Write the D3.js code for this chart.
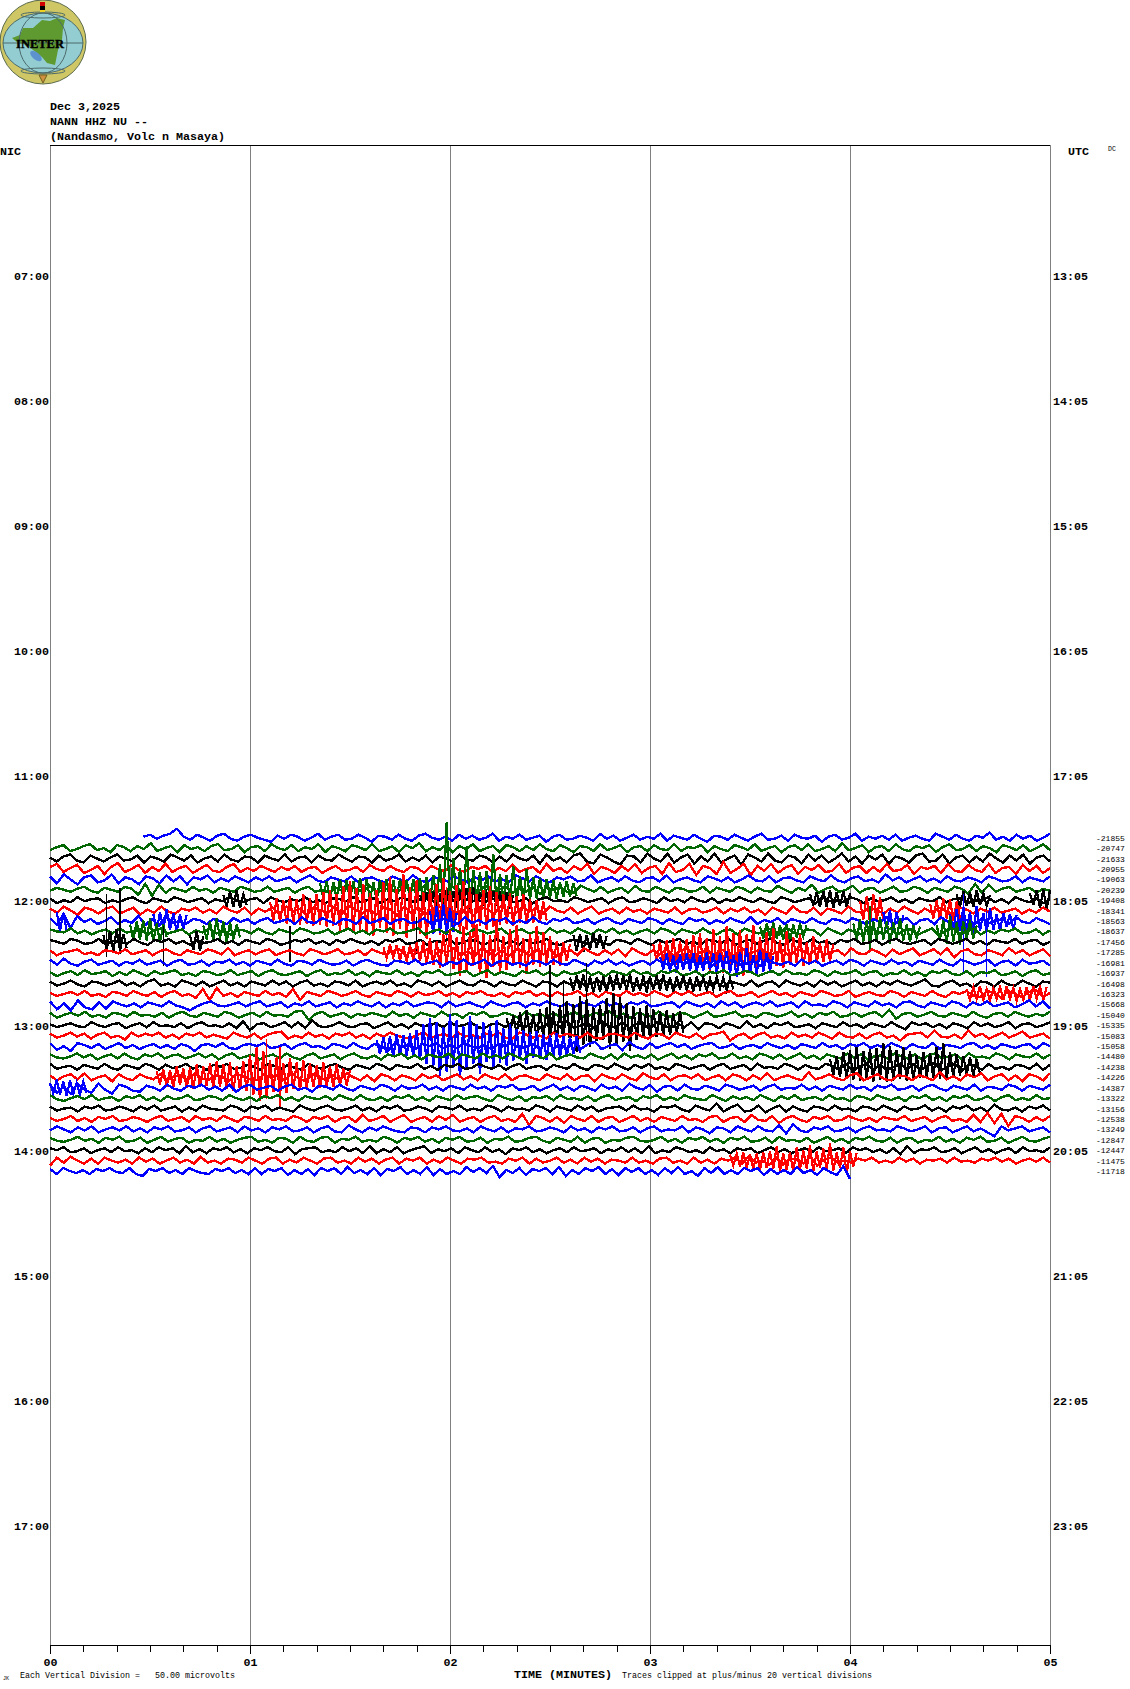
<!DOCTYPE html>
<html>
<head>
<meta charset="utf-8">
<title>NANN HHZ NU helicorder</title>
<script src="https://cdn.jsdelivr.net/npm/d3@7"></script>
<style>
  html, body { margin: 0; padding: 0; background: #fff; }
  svg { display: block; }
  text { font-family: "Liberation Mono", "DejaVu Sans Mono", monospace; white-space: pre; }
</style>
</head>
<body>
<div class="chart"></div>
<script>
// labels
var headerLines = ["Dec 3,2025", "NANN HHZ NU --", "(Nandasmo, Volc n Masaya)"];
var nicLabels = ["07:00", "08:00", "09:00", "10:00", "11:00", "12:00", "13:00", "14:00", "15:00", "16:00", "17:00"];
var utcLabels = ["13:05", "14:05", "15:05", "16:05", "17:05", "18:05", "19:05", "20:05", "21:05", "22:05", "23:05"];
var minuteLabels = ["00", "01", "02", "03", "04", "05"];

// right hand column, one value for each drawn trace
var dcOffsets = [-21855, -20747, -21633, -20955, -19063, -20239, -19408, -18341, -18563, -18637, -17456,
  -17285, -16981, -16937, -16498, -16323, -15668, -15040, -15335, -15083, -15058, -14480, -14238,
  -14226, -14387, -13322, -13156, -12538, -13249, -12847, -12447, -11475, -11718];

var firstRow = 66;      // the first 5 minute line that has data
var traceStart = [28];  // second where a trace begins, only the first one is late
var lastTraceEnd = 240; // the last trace stops at minute 4

// trace samples, one list per 5 minute line (in px-ish amplitude units)
var trace66 = [1,3,-1,2,4,9,1,-2,3,0,-3,2,4,-1,-3,1,3,0,-2,-4,2,-1,3,1,-3,0,4,-2,1,3,-2,-1,3,0,-4,2,1,-2,3,-1,-3,2,4,0,-2,1,-3,3,-1,2,-2,0,4,-3,1,-1,3,-2,0,2,-4,1,3,-2,-1,2,0,-3,4,-1,2,-3,0,3,-2,1,-1,4,-3,2,0,-2,3,-1,-4,2,1,-2,3,0,-3,1,4,-2,-1,2,-3,3,0,-1,2,-4,1,3,-2,0,4,-3,1,-1,2,-2,3,-3,0,2,-1,-3,4,1,-2,3,-1,-3,2,0,5,-2,1,-3,3,-1,2,-3,0,4];
var trace67 = [-2,1,3,-3,-1,2,4,-2,0,-4,3,1,-3,2,-1,5,-3,0,2,-4,3,-1,1,-3,2,4,-2,-1,3,-4,1,2,-3,4,0,-2,3,-3,1,-1,4,-4,2,0,-3,3,1,-2,4,-3,-1,2,-4,3,0,5,-3,1,-2,3,-4,2,-1,4,-3,0,2,-4,3,1,-3,2,-2,4,-1,-3,3,0,-4,2,1,-3,4,-2,0,3,-4,1,2,-3,3,-1,-2,4,-3,1,0,3,-4,2,-1,-3,3,1,-2,4,-3,0,2,-4,1,3,-2,4,-3,-1,2,-3,5,-2,0,3,-4,1,2,-3,4,-1,-3,2,0,3,-4,1,4,-2,-1,3,-3,2,0,-4,3,1,-2,3,-3,0,4,-2];
var trace68 = [1,-3,2,4,-2,-4,3,0,-3,1,4,-2,-1,3,-4,2,0,-3,4,1,-2,3,-4,0,2,-3,4,-1,-3,2,1,-4,3,0,-2,4,-3,1,2,-4,3,-1,-2,4,0,-3,2,1,-4,3,-2,0,4,-3,1,-2,3,-4,2,0,-3,4,-1,-2,3,1,-4,2,-3,4,0,-2,3,-5,4,-2,1,-4,3,5,-3,-5,4,1,-3,-6,3,2,-4,5,0,-3,5,-4,1,4,-5,2,-3,5,-4,0,3,-6,4,1,-3,5,-2,-4,3,1,-5,4,-2,3,-4,0,5,-3,2,-5,3,-1,4,-5,2,0,-4,3,5,-3,-2,4,-5,1,3,-4,2,-3,5,0,-4,3,-2,4,-5,1,3,-3];
var trace69 = [2,5,-3,1,4,-4,-1,3,-5,2,6,-3,0,4,-4,2,-2,5,-3,1,3,-4,0,4,-2,-3,2,5,-3,1,-2,3,0,-3,2,-1,3,-3,1,2,-4,0,3,-2,-1,2,-3,4,0,-2,3,-1,-3,2,1,-4,3,0,-2,4,-1,-3,2,0,3,-3,1,-2,4,-3,0,2,-4,5,-2,1,-4,3,-1,5,-5,2,0,-4,3,-2,5,-4,1,3,-5,6,-3,-1,5,-6,3,1,-5,7,-4,0,5,-6,3,-2,5,-4,1,4,-5,2,-1,4,-3,-2,5,-4,1,3,-4,2,-3,5,-2,-1,4,-5,2,0,3,-4,5,-2,-3,4,-1,-3,5,-4,1,2,-5,4,-2,3,-4,1];
var trace70 = [3,-4,5,0,-5,2,4,-3,-1,5,-4,2,0,-5,3,1,-4,4,-2,3,-5,2,0,4,-3,1,-2,3,0,-3,2,-1,3,-2,0,2,-3,1,4,-1,-3,2,0,-2,3,-3,1,2,-1,-3,3,0,-2,4,-1,-3,2,1,-2,3,0,-3,2,-1,3,-2,0,-3,4,1,-2,3,-1,-3,2,0,3,-2,-1,4,-3,0,2,-2,3,-1,-3,1,2,-2,4,-3,0,2,-1,-3,3,1,-2,2,-3,0,4,-1,-2,3,-3,1,2,-1,-3,3,0,-2,4,-1,-3,1,3,-2,0,-3,5,-1,2,-3,0,3,-2,1,-3,3,-1,-2,2,0,-3,3,1,-2,-1,3,-3,2,0,-2,3];
var trace71 = [-1,2,0,-2,1,3,-1,-3,2,0,-2,3,1,-5,6,-6,5,-3,2,0,-2,3,-1,1,-3,2,0,-2,3,1,-2,-1,3,-2,0,2,-3,1,3,-2,0,-3,2,-1,3,1,-2,4,-3,0,2,-3,3,1,-2,4,-3,0,-2,3,1,-3,2,-1,4,-2,0,3,-3,1,-2,3,-4,2,0,3,-2,-3,4,1,-2,3,-3,0,2,-3,4,-1,-2,3,0,-3,2,1,-2,-1,3,-3,2,0,-2,3,1,-3,2,-1,-2,4,0,-3,2,-1,5,-3,1,3,-2,0,4,-3,1,2,-3,0,3,-2,-1,3,1,-3,2,0,-2,3,1,-4,6,-3,5,-2,1,3,-2,0,2,-3,1,-1];
var trace72 = [2,-3,0,-2,3,-1,1,2,-3,0,-2,1,3,-1,-3,2,0,-2,3,1,-2,0,2,-3,1,-1,3,0,-2,1,2,-3,3,0,-2,1,-1,3,-2,0,-3,2,1,-1,3,-2,0,2,-3,1,-1,3,0,-2,2,1,-3,2,0,-1,3,-2,1,-3,2,0,3,-2,-1,2,-3,1,3,-1,0,-2,3,1,-2,0,2,-3,1,3,-2,-1,2,0,-3,3,-1,1,-2,3,0,-2,2,-3,1,-1,3,0,-2,2,-1,-3,3,1,-2,0,2,-3,3,-1,0,-2,3,1,-3,2,-1,0,3,-2,1,-3,2,0,-1,3,-2,1,2,-3,0,-1,3,-2,1,-3,3,0,-2,2,-3,1];
var trace73 = [2,-2,4,0,-4,3,1,-3,2,4,-3,0,3,-4,1,-2,4,-1,-3,2,0,3,-2,1,-3,4,0,-2,3,-4,2,-1,3,-3,4,-1,2,-5,3,0,-2,4,-4,5,1,-3,2,-4,3,1,-5,4,-2,3,-4,1,5,-3,0,-4,3,-5,4,1,-3,5,-2,-3,4,-1,2,-3,4,0,-2,3,-3,1,4,-3,0,2,-3,3,-1,1,-3,2,0,-2,3,-3,1,2,-2,0,3,-3,2,-1,3,-2,1,-4,3,0,-3,4,-1,-2,3,-4,2,0,-3,4,-1,-2,3,1,-3,2,-2,4,0,-3,2,-2,3,0,-4,3,1,-3,2,-1,3,-2,0,2,-3,1,-2,3,-1];
var trace74 = [3,-4,7,-7,5,-1,2,-3,0,4,-3,1,-2,5,-4,2,-5,5,-2,0,-3,2,1,-3,2,0,-3,3,-1,2,-3,1,3,-2,0,2,-3,4,-1,-2,3,0,-3,2,1,-3,4,-2,0,3,-3,1,2,-2,-1,3,-3,1,2,0,-3,4,-2,1,-3,2,0,3,-3,1,-2,4,-1,-3,2,0,3,-2,-1,2,-3,1,3,-1,-3,2,0,-2,3,1,-3,2,-1,-3,3,0,2,-3,1,-2,3,0,-2,4,-3,1,-1,3,-3,2,0,-2,3,-1,-3,2,1,-2,3,0,-3,2,-1,4,-3,0,3,-4,1,2,-3,4,-1,-3,2,1,-3,3,-2,0,2,-3,4,-1,-2,3,0,-3];
var trace75 = [2,0,-1,3,-2,1,-3,0,2,-2,3,-1,0,2,-3,1,3,-2,0,2,-3,1,-1,3,-2,0,-3,2,1,-2,3,-1,-3,2,0,-2,3,1,-2,-1,2,-3,0,3,-2,1,-3,2,0,3,-2,-1,1,3,-3,0,2,-2,3,-1,-3,2,1,-2,0,3,-3,1,2,-2,0,-3,3,-1,1,-2,3,0,-3,2,-1,3,-2,1,-3,0,2,-2,3,1,-3,2,0,-2,3,-1,-3,1,2,-3,3,0,-2,1,3,-3,4,-1,-3,2,1,-4,3,0,-3,2,-1,-3,4,0,-2,3,-3,1,2,-3,0,3,-4,1,3,-2,0,3,-3,1,-2,2,0,3,-2,-1,2,-3,1];
var trace76 = [2,0,-2,3,1,-2,-1,3,-3,1,0,-2,3,-1,-3,2,0,3,-2,1,-3,2,-1,0,3,-2,1,-3,2,0,-2,3,1,-3,-1,2,0,3,-2,1,-3,2,-1,3,0,-2,1,-3,2,0,3,-2,-1,2,-3,1,0,3,-2,-1,2,1,-3,0,3,-2,1,-3,2,-1,0,3,-2,-3,1,2,0,-2,3,-1,-3,2,1,-2,3,0,-3,2,-1,1,3,-2,0,-3,2,1,-1,3,-3,0,2,-2,1,3,-1,-3,2,0,-2,3,-1,1,-3,2,0,3,-2,-1,2,-3,1,3,-1,-2,0,2,-3,3,1,-2,0,3,-2,1,-3,2,0,-1,3,-2,1,2,-3,0];
var trace77 = [2,-3,0,1,3,-2,0,-3,2,1,-1,3,-2,0,2,-3,1,3,-1,-3,2,0,-2,3,1,-2,4,-3,0,2,-2,1,3,-3,0,2,-1,-3,3,1,-2,0,3,-2,-1,2,-3,3,0,-2,1,3,-3,2,-1,3,-4,2,0,4,-3,1,-4,4,0,-3,2,-4,3,1,-3,2,-2,3,-4,1,2,-3,4,0,-3,2,-2,3,-4,4,0,-3,2,-2,3,-3,1,4,-3,0,2,-4,3,-1,-3,4,-2,1,3,-3,0,2,-4,3,1,-2,4,-3,0,2,-3,4,-1,-2,3,0,-4,3,-2,1,4,-3,0,3,-2,4,-5,1,3,-2,-3,2,0,-3,4,-1,2,-3,0,3,-4];
var trace78 = [3,-2,4,-1,-3,1,3,-2,0,2,-3,1,-1,3,-2,0,2,-3,1,3,-2,-1,2,-3,1,0,3,-2,1,-3,2,0,-2,3,-1,-3,2,1,-2,3,0,-2,-1,2,-3,1,3,0,-2,-3,2,1,-1,3,-2,0,2,-3,1,-1,3,-2,0,3,-3,1,2,-2,0,-3,2,1,-2,3,-1,-2,3,0,-3,2,-1,3,-2,1,-3,0,2,-2,3,0,-3,2,-1,3,-2,1,-3,2,0,3,-2,-1,2,-3,3,0,-2,1,-3,3,-1,2,-3,0,2,-2,3,1,-3,2,0,-2,3,-1,1,-3,2,0,-2,3,-1,-3,3,1,-2,0,3,-3,1,2,-3,3,-1,0,2,-3];
var trace79 = [1,-3,0,2,-2,3,-1,0,2,-3,1,-2,3,0,-3,2,-1,1,3,-2,0,-3,2,1,-2,-1,3,-2,0,2,-3,1,3,-1,-2,0,2,-3,1,3,-2,0,-1,3,-2,1,-3,2,0,-1,3,-2,1,-3,2,0,3,-2,-1,1,2,-3,0,3,-2,1,-1,-3,2,0,3,-2,1,-3,2,-1,0,3,-2,1,-3,2,0,-2,3,-1,1,-3,2,0,3,-2,-1,2,-3,1,0,3,-2,-1,2,1,-3,0,2,-2,3,-1,0,-2,3,1,-3,2,-1,0,3,-2,1,2,-3,0,-1,3,-2,1,-3,2,0,3,-1,-2,2,-3,1,0,3,-2,-1,2,-3,1,3,-2,0];
var trace80 = [2,-2,0,3,-1,-3,2,1,-2,0,3,-2,1,-3,2,4,-2,0,-3,3,1,-2,2,-3,0,3,-2,1,-3,2,0,-2,3,-1,2,-3,1,3,-2,0,-3,2,1,-2,3,-3,0,2,-1,3,-2,0,-3,3,1,-2,2,-3,0,3,-1,-2,3,1,-3,2,-1,-2,3,0,-3,2,1,-3,2,-1,3,-2,0,3,-3,2,-1,3,0,-3,2,-2,3,1,-3,2,0,-2,3,-1,1,-3,2,0,-2,3,-3,1,2,-3,3,0,-2,1,-3,3,-1,2,-3,0,3,-2,1,-3,2,-1,3,0,-2,1,4,-2,-3,1,3,-2,0,-4,2,1,-3,3,-1,-2,3,0,-3,2,1];
var trace81 = [1,-2,0,2,-1,3,-2,0,-3,2,1,-2,3,0,-2,2,-3,1,3,-2,0,-4,5,-6,6,-2,1,-3,2,0,-2,3,-1,1,-3,5,-6,2,0,-2,3,1,-2,0,3,-1,-3,2,0,-2,3,1,-3,2,-1,0,3,-2,1,-3,2,0,3,-1,-2,1,-3,2,0,3,-2,1,-3,2,-1,0,3,-2,1,-3,2,0,-2,3,-1,1,-2,3,0,-3,2,-1,3,-2,0,2,-3,1,3,-2,-1,2,-3,0,3,-1,1,-3,2,0,-2,3,1,-2,-1,3,-3,0,2,-1,-2,3,1,-3,2,0,-2,3,-1,-3,2,0,3,-2,-3,3,1,-4,3,0,-3,2,4,-3,1];
var trace82 = [3,-5,1,-6,4,-3,-5,2,-4,3,0,-2,1,-3,2,0,-2,3,-1,-3,-6,-2,1,3,-1,-2,0,2,-2,1,3,-2,0,2,-3,1,-1,3,-2,0,2,-3,1,-1,3,0,-2,2,-3,1,-1,3,-2,0,2,1,-3,3,-2,0,2,-1,-3,3,0,-2,1,2,-3,1,-1,3,0,-2,1,-3,2,0,-2,3,-1,1,-3,2,0,3,-2,-1,1,2,-3,3,0,-2,1,-3,3,-1,2,-3,0,2,-1,3,-2,0,2,-3,3,-1,0,-2,3,1,-3,2,0,-2,3,-1,1,-3,2,3,-1,-3,2,0,-2,3,1,-3,2,-1,3,-2,0,2,-3,0,4,-2,3,-4];
var trace83 = [2,-3,0,2,-1,3,-2,0,-3,2,1,-2,3,-1,0,-2,2,-3,1,3,-1,-2,2,0,-2,3,1,-3,0,2,-2,3,-1,0,-2,3,4,-5,1,3,-2,0,2,-3,1,-1,2,0,-2,3,-1,1,-3,2,0,-2,3,-1,1,-3,2,0,3,-2,-1,2,0,-3,3,-1,1,-2,2,-3,0,3,-2,-1,2,0,3,-2,1,-3,2,0,-2,3,-1,-2,2,1,-3,0,3,-2,-1,1,3,-2,0,-3,2,1,-2,0,3,-2,1,-3,2,0,3,-2,-1,2,-2,1,3,-2,5,-4,1,2,-2,0,3,-1,-2,2,0,-2,3,-1,-3,1,2,-2,3,0,-2,1,-1,3];
var trace84 = [1,-2,0,2,-1,-2,3,0,-2,1,2,-3,0,2,-2,3,-1,0,-2,2,-3,1,3,-1,0,-2,2,-3,4,-5,1,2,-2,0,3,-2,3,-3,5,-1,-2,0,3,-1,-2,1,2,-3,0,3,-2,1,-3,2,-1,0,2,-2,3,-1,0,3,-2,-3,1,2,-2,3,0,-2,3,-3,1,2,-2,4,-3,0,2,-3,4,-1,-2,3,-3,1,2,-4,3,0,-3,2,-2,3,-4,2,1,-3,2,0,-3,4,-2,1,-3,2,0,3,-2,-1,1,-3,2,0,-2,3,-1,1,-3,2,0,-2,3,-1,-4,3,0,2,-2,1,-3,2,0,-3,3,-1,2,-2,0,3,-3,1,2,-2,0,3];
var trace85 = [2,-2,0,3,-1,2,-3,1,3,-2,0,-4,3,-1,2,0,3,-2,1,-3,2,0,3,-2,1,-1,-3,3,0,-2,2,-3,1,3,4,-3,0,-2,3,-1,1,-3,2,0,3,-2,1,-3,2,-1,3,0,-2,-3,1,3,-2,0,2,-3,3,-1,1,-3,2,0,3,-2,-3,3,1,-2,0,-3,3,-1,2,0,-2,3,-2,-3,1,2,0,-2,3,-1,-3,2,1,-3,3,0,-2,2,-3,1,2,4,-5,0,2,-3,1,3,-2,0,-3,3,-1,1,-2,3,0,-3,3,-1,-2,2,-3,1,3,-2,0,-5,1,2,3,-2,5,-1,-2,1,-3,5,-1,2,-3,0,3,-2,1,4,-2,0,2,-3];
var trace86 = [3,-4,0,-5,3,1,-2,2,-3,0,3,-2,1,-3,0,2,-2,1,-3,2,0,-5,1,2,-1,3,-2,-3,1,2,0,3,-2,-1,2,-3,1,3,-1,0,-3,2,1,-2,3,-1,-3,2,0,-5,3,-1,1,-3,2,0,3,-2,1,-2,3,0,-2,1,-3,2,0,3,-2,-1,2,-3,3,-2,1,-3,4,-3,2,4,-3,0,2,-4,4,-1,-3,3,-2,1,3,-1,2,-3,0,2,3,-2,-1,2,-3,0,1,-2,3,0,-2,1,-3,2,0,-2,3,-1,1,-3,2,0,3,-2,1,-2,3,0,-3,2,-1,-2,3,-3,1,0,-2,2,3,-2,1,-3,2,0,-2,1,2,-3,3,0];
var trace87 = [2,-1,-2,0,3,-1,2,-3,0,2,-2,3,-1,-3,2,0,3,-2,1,2,-2,0,3,-1,2,-3,1,3,-2,0,2,-3,0,2,-2,3,-1,-3,1,3,-2,0,2,-3,1,3,-1,-2,1,-3,2,0,3,-2,1,-3,2,0,-1,3,-3,2,0,-2,3,-1,1,-2,3,0,-3,2,1,-2,3,-3,0,2,-1,-2,3,0,-2,2,-3,3,-1,1,-2,2,-3,0,3,-2,1,-3,2,0,3,-2,-1,3,-2,0,-3,3,1,-2,2,-3,0,3,-2,1,-3,2,0,-2,3,-1,2,-3,0,1,-2,3,0,-2,2,-3,1,3,-2,0,2,-3,3,-1,0,-2,3,1,-3,2,0,-1,3,-2,2];
var trace88 = [3,-2,0,1,-3,2,0,-2,3,-1,-3,2,0,-2,3,1,-3,2,-1,0,3,-2,1,-3,2,0,3,-2,-1,2,0,-3,3,1,-2,2,-1,-3,3,0,-2,1,3,-1,-3,2,0,-2,3,1,-3,2,0,-1,3,-2,1,-3,2,0,3,-2,-1,3,0,-2,2,-3,1,3,-2,0,1,-3,2,0,-2,3,-1,-3,2,1,-2,3,0,-3,2,-1,3,-2,0,-3,3,1,-2,0,2,-3,1,3,-2,0,2,-3,3,-1,0,-2,3,1,-3,2,-1,-2,3,1,-3,3,-4,0,3,-3,2,-3,0,3,-2,3,-3,1,4,-3,0,3,-4,2,1,-3,3,-2,0,-3,2,1,-2,3,-3,2];
var trace89 = [2,-3,1,3,-2,4,-3,0,2,-4,3,-1,-3,3,0,-2,3,-3,1,2,-3,4,-1,-3,2,0,-3,3,1,-2,-3,3,0,2,-3,4,-1,-4,3,1,-3,2,-3,4,0,-3,2,-4,3,1,-3,2,0,-3,3,-1,2,-3,0,3,-2,1,-3,3,0,-2,3,-3,1,2,-1,-3,3,0,-2,3,-3,1,2,-4,3,0,-2,3,-1,-3,4,0,-2,3,-3,1,2,-1,3,-3,0,2,-3,3,1,-3,2,-2,4,-3,0,2,-1,-3,5,-2,0,3,-1,-3,2,4,-3,0,3,-2,-3,2,1,-3,2,0,-3,5,-2,1,-3,3,0,4,-3,1,3,-3,2,-4,3,1,-3,4];
var trace90 = [3,-5,1,-6,4,-2,-5,4,-2,-6,3,1,-3,-4,2,0,-3,3,-1,-3,2,0,3,-2,1,-3,3,-4,1,3,-2,0,2,-3,1,3,-2,0,-4,2,1,-2,3,-1,-3,2,0,-2,3,1,-3,2,-1,0,3,-2,1,-3,2,0,-2,3,-1,1,-3,2,0,3,-2,-1,2,-3,0,3,-2,1,-3,2,0,-3,3,-1,1,-3,4,0,-2,3,-4,1,2,-3,3,-1,-2,2,0,-3,3,1,-2,0,2,-3,1,3,-2,0,-1,3,-2,1,-3,2,0,-2,3,-1,1,-3,2,0,3,-2,-1,2,-3,1,3,-1,-3,2,0,-2,3,-3,1,0,-2,3,1,-3,2,0,-2,3];
var trace91 = [3,-1,-3,0,2,-1,3,-2,0,1,-3,2,0,3,-2,1,-3,2,-1,0,3,-2,-1,2,1,-2,3,0,-2,1,-3,2,0,3,-2,1,-3,2,0,-1,2,-2,3,0,-2,3,-1,-2,1,-3,2,0,3,-2,1,-3,2,0,-2,3,-1,1,2,-1,-3,3,0,-2,2,-3,1,0,2,-2,3,-1,0,-2,2,-3,1,3,-2,0,1,-3,2,0,3,-2,1,-2,3,0,-1,-2,3,0,-3,2,-1,1,-2,3,0,-3,2,-1,3,-2,0,1,-2,3,-1,0,-3,2,1,-2,3,0,-2,1,-3,2,0,3,-2,1,-3,2,0,3,-2,-1,2,-3,1,3,-2,0,-2,3,-1,0];
var trace92 = [2,-2,0,1,-3,2,0,3,-2,-1,2,0,-3,2,-1,3,-2,0,2,-3,1,-2,3,0,-1,-2,3,1,-3,2,0,3,-2,1,-1,-3,3,0,-2,1,3,-1,-2,0,3,-2,1,-3,2,0,3,-2,-1,2,0,-3,2,1,-1,3,-2,0,-2,3,1,-3,2,-1,0,-2,3,1,-3,2,0,-2,3,-1,2,-3,0,1,2,-2,3,-1,0,-3,2,1,3,-1,-3,3,0,-2,5,-3,1,4,-3,-2,3,-4,0,3,-3,2,-1,-3,2,1,-2,3,-1,0,-3,2,1,-2,3,0,-3,2,-1,0,3,-2,1,-3,2,0,3,-2,1,-3,4,-1,-2,1,-3,2,0,3,-2];
var trace93 = [1,-2,0,3,-2,1,-3,2,0,3,-2,-1,2,0,-3,1,3,-2,0,2,-3,3,-1,1,-2,3,0,-3,2,1,-2,3,-1,0,-2,3,1,-3,2,0,3,-3,1,2,-3,4,-2,0,3,-3,1,4,-3,0,2,-3,3,-1,4,-3,0,2,-3,1,3,-2,0,-3,5,-6,3,1,-3,2,-4,3,0,-2,3,-3,1,2,-3,0,3,-2,1,-3,2,0,-2,3,-1,0,-3,2,3,-3,1,2,-3,4,-1,-2,3,-4,1,3,-1,-3,2,0,3,-2,-1,3,0,-2,1,-3,2,0,-1,3,-2,0,2,-3,1,3,-2,0,-3,4,-3,6,-4,5,-7,3,1,-3,2,-2,3];
var trace94 = [-1,3,0,-3,2,-1,3,-3,0,2,-1,3,-2,1,-3,2,0,3,-2,-1,2,-3,1,3,-2,0,2,-3,3,-1,1,-3,2,0,3,-2,-1,2,-3,1,3,-2,-3,4,0,-3,2,-1,3,0,-2,-3,2,1,-3,2,0,3,-1,-2,1,-3,3,0,-2,2,-3,1,0,3,-2,-1,2,0,-3,3,-1,1,-3,2,0,3,-2,-1,2,-3,1,3,-2,0,-1,3,-3,2,0,-4,2,1,-3,3,0,-2,3,-1,-2,4,-4,5,-1,-3,2,0,3,-2,-1,2,-3,1,3,-1,0,-2,3,1,-2,0,3,-3,1,2,-3,0,3,-2,1,-3,-7,3,-1,1,3,-2,0,2,-3];
var trace95 = [2,-1,-2,0,3,-1,1,-3,2,0,3,-2,-1,2,-3,0,3,-2,1,2,-3,0,-1,3,-2,1,-3,0,2,3,-2,0,-3,2,1,-3,3,-1,-2,2,3,-3,1,0,3,-2,0,-2,3,1,-3,2,0,3,-2,1,-3,2,0,3,-2,-1,2,-3,1,0,3,-2,-1,2,3,-1,-3,2,0,-2,3,-3,1,2,-3,0,-1,2,3,-1,-2,0,3,-2,1,-3,2,0,3,-2,1,-3,2,0,3,-2,-1,2,-3,3,-1,0,-2,2,-3,0,3,-2,1,-3,2,0,3,-1,-2,2,-3,1,2,-3,0,-1,3,-2,1,-3,2,0,3,-2,-1,2,-3,0,3,-1,-2,1,3];
var trace96 = [2,0,3,-2,-1,2,-3,0,2,-2,3,-1,0,-3,2,-2,3,0,2,-3,4,-2,1,-3,2,0,3,-2,1,-3,2,0,3,-1,-2,3,-4,1,2,3,-2,0,-2,3,-1,2,-3,4,-3,1,-2,3,-3,0,2,4,-3,1,-1,2,-3,3,0,-2,3,-2,1,-4,2,0,3,-2,1,-3,0,2,-2,3,-1,0,2,-3,1,-1,3,-2,2,-3,4,-3,0,-2,3,1,-2,0,-3,3,-1,1,-3,2,0,2,-3,0,3,-2,1,-3,0,2,-2,3,-1,0,2,-3,3,0,2,-2,1,-3,2,-4,4,-3,1,0,3,-2,-1,2,-3,0,3,-2,1,-3,0,2,-3,3,-1,0,-2,3];
var trace97 = [-5,3,-2,4,0,-3,2,-3,3,0,-2,1,-3,3,-1,2,-3,0,3,-2,1,-3,4,-2,0,-3,2,1,-2,3,0,-3,2,3,-3,1,-2,3,0,-3,2,3,-2,0,-3,3,-1,2,-3,1,3,-3,2,0,3,-3,1,-2,3,0,-3,2,1,3,-2,-1,-3,2,0,3,-3,2,-2,0,3,-2,1,-3,3,-1,2,-3,1,0,-2,3,-2,0,-3,2,3,-2,0,-3,3,-2,1,-3,2,0,3,-3,4,-2,0,-4,3,-4,2,1,-3,4,-5,1,3,-2,0,-2,2,0,3,-2,0,-2,3,-1,2,-3,1,0,2,-2,3,-1,0,-2,2,0,3,-1,2,-3,0,2,-1,3,-2];
var trace98 = [2,-3,3,0,-2,1,-3,2,0,3,-1,-2,3,-3,-5,2,0,3,-2,1,-3,3,0,-2,-3,2,0,3,-2,1,-3,3,-3,2,0,3,-4,1,-3,2,-4,3,0,3,-3,4,-2,1,-3,3,-4,2,0,4,-3,1,-3,4,-4,2,-3,0,-3,4,-1,3,-2,5,-6,1,-2,3,-4,2,0,3,-3,4,-5,1,-3,3,0,4,-3,2,-4,3,-1,3,-3,1,-4,3,-2,4,-3,0,-5,3,-2,4,-3,1,-3,3,0,3,-4,2,-3,1,-3,4,-2,1,-4,3,-1,-4,5,-8];

var traces = [trace66, trace67, trace68, trace69, trace70, trace71, trace72, trace73, trace74, trace75, trace76,
  trace77, trace78, trace79, trace80, trace81, trace82, trace83, trace84, trace85, trace86, trace87, trace88,
  trace89, trace90, trace91, trace92, trace93, trace94, trace95, trace96, trace97, trace98];

// the busy stretches, one sample per second
var burst71 = [7,-8,9,-10,8,-9,11,-8,10,-11,9,-10,12,-9,11,-10,8,-11,10,-9,11,-12,10,-9,11,-8,10,-9,11,-10,12,-11,13,-11,15,-12,26,-14,68,-16,32,-15,22,-14,44,-17,20,-14,18,-16,19,-13,36,-15,16,-12,15,-11,24,-12,14,-11,21,-10,13,-9,12,-10,11,-8,10,-9,8,-7,9,-7,7,-6];
var burst73a = [9,-10,12,-11,10,-13,14,-12,11,-14,16,-13,12,-15,17,-14,19,-16,21,-15,17,-20,25,-18,30,-21,23,-19,27,-23,18,-25,21,-17,29,-22,34,-25,22,-18,37,-27,24,-20,31,-23,19,-28,22,-16,27,-24,33,-21,20,-17,26,-22,30,-19,23,-27,17,-15,21,-19,25,-16,19,-14,16,-13,18,-15,14,-12,16,-13,11,-12,10,-11,9,-10];
var burst73b = [10,-9,14,-12,16,-11,13,-10];
var burst73c = [7,-8,10,-9,12,-8,11,-10,9,-8];
var burst77a = [5,-6,8,-5,7,-8,6,-9,7,-8,10,-9,11,-12,14,-13,11,-16,18,-13,22,-17,15,-24,26,-18,20,-14,28,-22,19,-26,17,-15,32,-20,16,-18,23,-14,27,-16,14,-22,18,-13,26,-15,20,-12,16,-13,11,-14,10,-9,8];
var burst77b = [8,-9,10,-11,12,-10,14,-13,11,-9,13,-15,17,-12,19,-16,14,-20,23,-18,16,-21,26,-17,19,-15,22,-24,18,-16,27,-20,15,-13,20,-17,24,-14,12,-16,21,-13,15,-11,18,-14,10,-12,16,-11,9,-10,13,-9,8];
var burst78 = [6,-7,9,-8,7,-10,8,-7,9,-8,10,-9,7,-8,10,-7,9,-11,10,-8,12,-10,8,-14,11,-9,15,-10,8,-12,13,-9,10,-8,7];
var burst80 = [6,-7,8,-6,9,-8,7,-9,6,-8,7,-9,8,-7,9,-6,8,-7,9,-8,6,-7,8,-9,7,-6,8,-7,9,-7,6,-8,7,-6,8,-7,6,-8,7,-5,6,-7,5,-6,7,-5,6,-7,5,-6];
var burst81 = [5,-6,7,-5,8,-6,5,-7,6,-5,7,-6,8,-5,6,-7,5,-6,7,-6,8,-5,7,-6,7];
var burst84 = [7,-8,10,-9,13,-11,15,-12,11,-14,16,-13,18,-15,14,-17,20,-16,24,-18,21,-27,29,-20,26,-22,18,-16,20,-15,27,-24,32,-21,28,-17,22,-26,19,-15,17,-13,20,-14,16,-12,14,-11,15,-10,12,-9,14,-8];
var burst86 = [6,-8,9,-7,10,-11,12,-9,11,-10,13,-11,16,-14,22,-18,28,-20,24,-30,19,-26,32,-22,26,-32,20,-24,30,-18,22,-28,24,-16,20,-22,26,-17,18,-20,22,-15,17,-13,16,-18,14,-12,15,-13,12,-14,11,-10,13,-12,10,-11,9,-8,10,-7];
var burst88 = [8,-9,11,-10,15,-12,17,-13,20,-14,16,-12,18,-15,19,-13,24,-15,21,-14,17,-12,20,-14,16,-13,12,-11,15,-10,14,-11,20,-12,24,-13,15,-10,13,-9,11,-8,10,-9,8,-7];
var burst89 = [6,-7,8,-9,7,-10,11,-8,9,-11,10,-12,13,-10,11,-9,14,-11,16,-10,13,-12,15,-14,11,-13,16,-14,22,-18,30,-24,26,-20,17,-15,20,-18,14,-16,19,-12,15,-13,17,-11,14,-10,12,-11,15,-9,11,-10,13,-8,9,-8,7];
var burst97 = [6,-5,7,-6,8,-7,6,-8,7,-9,8,-7,9,-8,14,-10,7,-9,8,-11,13,-9,10,-8,15,-11,9,-7,12,-9,17,-10,8,-7,13,-13,9,-6,8];
var burst72a = [5,-6,9,-7,10,-8,6,-5];
var burst72b = [5,-6,8,-7,9,-10,7,-9,10,-7,9,-8,10,-6,12,-9,13,-7,8,-6,7,-5,9,-6,7,-5,8,-6,5];
var burst72c = [6,-5,8,-7,9,-7,10,-8,8,-6,9,-7,7];
var burst72d = [7,-5,10,-8,11,-9,10];
var burst72e = [6,-7,9,-6,8,-7,10,-5,7,-6,5];
var burst74a = [9,-10,8,-9];
var burst74b = [7,-10,9,-8,12,-9,8,-11,7,-8,6];
var burst74c = [10,-13,15,-12,17,-14,13,-11,8];
var burst74d = [9,-8,11,-10,9,-7,6];
var burst74e = [7,-9,12,-10,14,-11,9,-13,15,-10,8,-11,13,-9,7,-10,8,-6,7,-8,6];
var burst75a = [7,-9,10,-8,11,-9,13,-10,8,-11,7,-6];
var burst75b = [6,-8,10,-9,13,-7,10,-11,9,-8,7,-6];
var burst75c = [5,-7,8,-6,9,-7,6,-8,7,-9,7,-6,8,-5,6];
var burst75d = [8,-9,12,-10,11,-13,10,-9,14,-8,10,-12,9,-8,13,-9,7,-10,6,-7,5];
var burst75e = [6,-8,11,-12,15,-10,9,-13,10,-8,11,-7,6];
var burst76a = [7,-8,11,-10,13,-9,8,-6];
var burst76b = [7,-8,11,-9,6];
var burst76c = [7,-9,8,-10,7,-8,9,-6,8,-7,6];
var burst90 = [5,-6,8,-7,6,-8,7,-6,5,-7,6,-5];

// [row, first second, samples]
var bursts = [[71, 81, burst71], [72, 52, burst72a], [72, 111, burst72b], [72, 228, burst72c], [72, 294, burst72d],
  [72, 272, burst72e], [73, 66, burst73a], [73, 243, burst73b], [73, 264, burst73c], [74, 2, burst74a],
  [74, 31, burst74b], [74, 114, burst74c], [74, 250, burst74d], [74, 270, burst74e], [75, 24, burst75a],
  [75, 46, burst75b], [75, 213, burst75c], [75, 241, burst75d], [75, 266, burst75e], [76, 16, burst76a],
  [76, 42, burst76b], [76, 157, burst76c], [77, 100, burst77a], [77, 181, burst77b], [78, 183, burst78],
  [80, 156, burst80], [81, 275, burst81], [84, 137, burst84], [86, 98, burst86], [88, 234, burst88],
  [89, 32, burst89], [90, 0, burst90], [97, 204, burst97]];

// lone tall spikes: [row, second, up, down]
var spikes = [[76, 17, 48, 15], [76, 21, 54, 12], [76, 34, 16, 24], [76, 72, 16, 20], [76, 110, 25, 12],
  [74, 274, 27, 52], [78, 281, 52, 14], [75, 246, 25, 20], [84, 150, 60, 20],
  [84, 161, 62, 16], [84, 154, 44, 14], [73, 119, 24, 34], [89, 65, 38, 22], [89, 69, 30, 30]];

var w = 1130, h = 1689;
var colors = ["#000000", "#ff0000", "#0000ff", "#006600"];   // black, red, blue, green, repeating by row
var gridGray = "#808080";

var xTime = d3.scaleLinear().domain([0, 300]).range([50, 1050]);
var yRow = d3.scaleLinear().domain([0, 144]).range([145, 1645]);
var yAmp = d3.scaleLinear().domain([-100, 100]).range([100, -100]);  // offset from the trace line

var svg = d3.select(".chart").append("svg").attr("width", w).attr("height", h).attr("viewBox", "0 0 " + w + " " + h);

/////////////////// Logo ///////////////////
var logo = svg.append("g").attr("class", "logo");
logo.append("ellipse").attr("cx", 43).attr("cy", 42).attr("rx", 43).attr("ry", 42)
  .style("fill", "#cfc765").style("stroke", "#5a6a4a").style("stroke-width", 1);
logo.append("ellipse").attr("cx", 43).attr("cy", 43).attr("rx", 40).attr("ry", 30)
  .style("fill", "#93cdd2").style("stroke", "#4c6a6a").style("stroke-width", 1);
logo.append("polygon")
  .attr("points", "12,38 20,35 23,28 33,28 42,20 50,21 57,18 65,20 63,28 62,40 58,50 55,65 47,63 42,57 33,50 28,45 18,43")
  .style("fill", "#5f9a30");
logo.append("ellipse").attr("cx", 43).attr("cy", 43).attr("rx", 24).attr("ry", 30)
  .style("fill", "none").style("stroke", "#4c6a6a");
logo.append("ellipse").attr("cx", 43).attr("cy", 15).attr("rx", 22).attr("ry", 3)
  .style("fill", "none").style("stroke", "#4c6a6a");
logo.append("ellipse").attr("cx", 43).attr("cy", 71).attr("rx", 22).attr("ry", 3)
  .style("fill", "none").style("stroke", "#4c6a6a");
logo.append("line").attr("x1", 3).attr("x2", 83).attr("y1", 43).attr("y2", 43).style("stroke", "#4c6a6a");
logo.append("ellipse").attr("cx", 36).attr("cy", 56).attr("rx", 7).attr("ry", 3.5)
  .attr("transform", "rotate(40 36 56)").style("fill", "#5c93cf");
logo.append("rect").attr("x", 40).attr("y", 2).attr("width", 5).attr("height", 4).style("fill", "#d00000");
logo.append("rect").attr("x", 40).attr("y", 6).attr("width", 5).attr("height", 4).style("fill", "#000");
logo.append("rect").attr("x", 40).attr("y", 10).attr("width", 5).attr("height", 2).style("fill", "#f0d020");
logo.append("polygon").attr("points", "39,75 47,75 43,83").style("fill", "#d09040").style("stroke", "#706020");
logo.append("text").attr("x", 40).attr("y", 48).attr("text-anchor", "middle")
  .style("font-family", "'Liberation Serif', serif").style("font-weight", "bold").style("font-size", "12.5px")
  .style("stroke", "#000").style("stroke-width", 0.4).text("INETER");

/////////////////// Header text ///////////////////
svg.selectAll(".header").data(headerLines).enter().append("text")
  .attr("class", "header")
  .attr("x", 50).attr("y", function (d, i) { return 110 + i * 15; })
  .style("font-size", "11.67px").style("font-weight", "bold")
  .text(function (d) { return d; });
svg.append("text").attr("x", 0).attr("y", 155).style("font-size", "11.67px").style("font-weight", "bold").text("NIC");
svg.append("text").attr("x", 1068).attr("y", 155).style("font-size", "11.67px").style("font-weight", "bold").text("UTC");
svg.append("text").attr("x", 1108).attr("y", 151).style("font-size", "6.5px").text("DC");

/////////////////// Grid and axis ///////////////////
var gridMinutes = d3.range(0, 301, 60);
svg.selectAll(".minuteLine").data(gridMinutes).enter().append("line")
  .attr("class", "minuteLine")
  .attr("x1", function (d) { return xTime(d); })
  .attr("x2", function (d) { return xTime(d); })
  .attr("y1", yRow(0)).attr("y2", yRow(144))
  .style("stroke", gridGray).style("stroke-width", 1).attr("shape-rendering", "crispEdges");
svg.append("line").attr("x1", xTime(0)).attr("x2", xTime(300)).attr("y1", yRow(0)).attr("y2", yRow(0))
  .style("stroke", "#000").attr("shape-rendering", "crispEdges");

var axis = d3.axisBottom(xTime)
  .tickValues(d3.range(0, 301, 10))
  .tickSize(7)
  .tickSizeOuter(0)
  .tickFormat(function (d) { return d % 60 === 0 ? minuteLabels[d / 60] : ""; });
var axisG = svg.append("g").attr("class", "axis").attr("transform", "translate(0," + yRow(144) + ")").call(axis);
axisG.selectAll("line").attr("shape-rendering", "crispEdges")
  .filter(function (d) { return d % 60 === 0; }).attr("y2", 9);
axisG.select(".domain").attr("shape-rendering", "crispEdges");
axisG.selectAll("text").attr("y", 13)
  .style("font-family", "'Liberation Mono', monospace")
  .style("font-size", "11.67px").style("font-weight", "bold");

/////////////////// Hour labels ///////////////////
// labels sit on the first line of each hour
svg.selectAll(".nic").data(nicLabels).enter().append("text")
  .attr("class", "nic").attr("x", 49).attr("text-anchor", "end")
  .attr("y", function (d, i) { return yRow(12 * (i + 1) + 0.5) + 5; })
  .style("font-size", "11.67px").style("font-weight", "bold")
  .text(function (d) { return d; });
svg.selectAll(".utc").data(utcLabels).enter().append("text")
  .attr("class", "utc").attr("x", 1053)
  .attr("y", function (d, i) { return yRow(12 * (i + 1) + 0.5) + 5; })
  .style("font-size", "11.67px").style("font-weight", "bold")
  .text(function (d) { return d; });

/////////////////// Traces ///////////////////
var rows = traces.map(function (t, i) { return i + firstRow; });
var rowG = svg.selectAll(".trace").data(rows).enter().append("g")
  .attr("class", "trace")
  .attr("transform", function (r) { return "translate(0," + yRow(r + 0.5) + ")"; })
  .style("fill", "none")
  .style("stroke", function (r) { return colors[r % 4]; });

rowG.append("path")
  .attr("d", function (r, i) {
    var samples = traces[i];
    var t0 = i === 0 ? traceStart[0] : 0;
    var t1 = i === traces.length - 1 ? lastTraceEnd : 300;
    var step = (t1 - t0) / (samples.length - 1);
    return d3.line()
      .x(function (d, j) { return xTime(t0 + j * step); })
      .y(function (d) { return yAmp(d); })(samples);
  })
  .style("stroke-width", 2.4)
  .attr("shape-rendering", "crispEdges");

rowG.each(function (r) {
  var g = d3.select(this);
  bursts.filter(function (b) { return b[0] === r; }).forEach(function (b) {
    g.append("path")
      .attr("d", d3.line()
        .x(function (d, j) { return xTime(b[1] + j); })
        .y(function (d) { return yAmp(d); })(b[2]))
      .style("stroke-width", 2.2)
      .attr("shape-rendering", "crispEdges");
  });
  spikes.filter(function (s) { return s[0] === r; }).forEach(function (s) {
    g.append("line")
      .attr("x1", xTime(s[1])).attr("x2", xTime(s[1]))
      .attr("y1", yAmp(s[2])).attr("y2", yAmp(-s[3]))
      .style("stroke-width", 1.5)
      .attr("shape-rendering", "crispEdges");
  });
});

// DC offset column on the right
svg.selectAll(".dc").data(dcOffsets).enter().append("text")
  .attr("class", "dc").attr("x", 1096)
  .attr("y", function (d, i) { return yRow(firstRow + i + 0.5) + 3; })
  .style("font-size", "8px")
  .text(function (d) { return d; });

/////////////////// Footer ///////////////////
svg.append("text").attr("x", 3).attr("y", 1680).style("font-size", "5px").text("JK");
svg.append("text").attr("x", 20).attr("y", 1678).style("font-size", "8.33px")
  .text("Each Vertical Division =   50.00 microvolts");
svg.append("text").attr("x", 514).attr("y", 1678).style("font-size", "11.67px").style("font-weight", "bold")
  .text("TIME (MINUTES)");
svg.append("text").attr("x", 622).attr("y", 1678).style("font-size", "8.33px")
  .text("Traces clipped at plus/minus 20 vertical divisions");
</script>
</body>
</html>
